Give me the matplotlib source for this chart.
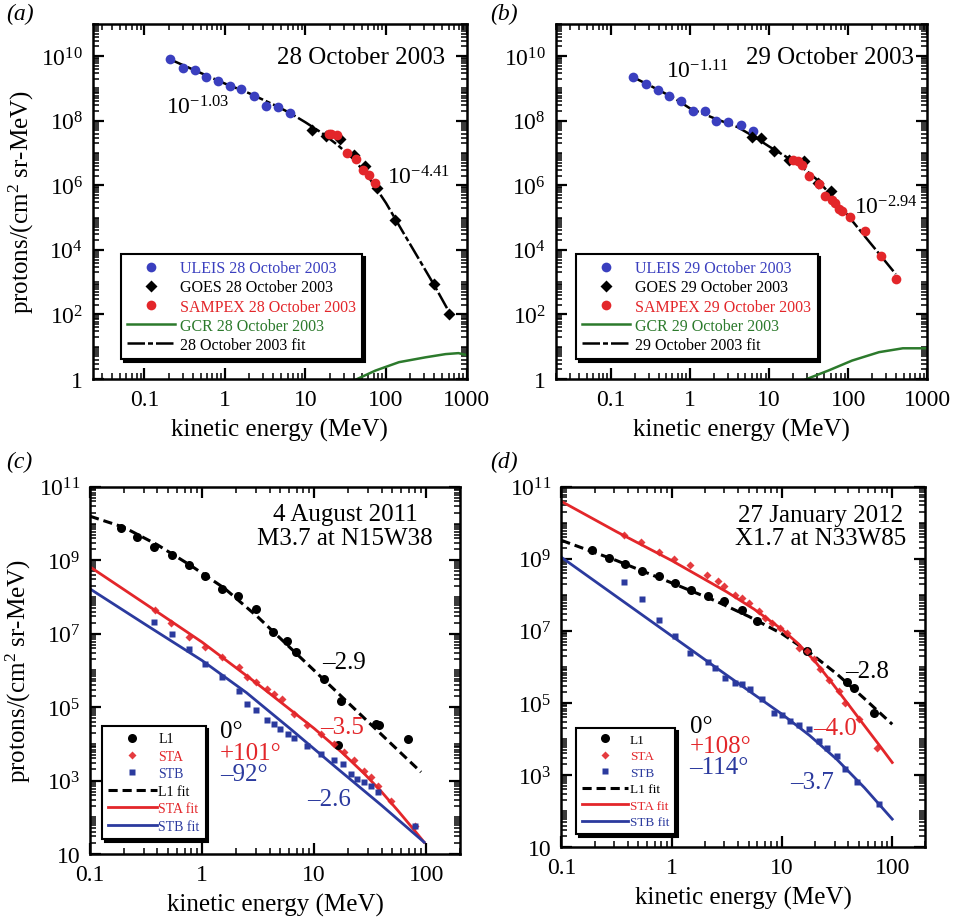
import numpy as np
import matplotlib
matplotlib.use('Agg')
import matplotlib.pyplot as plt
from matplotlib.ticker import FixedLocator, LogLocator, FuncFormatter, NullFormatter

plt.rcParams['font.family'] = ['Liberation Serif', 'DejaVu Serif']
plt.rcParams['mathtext.fontset'] = 'custom'
plt.rcParams['mathtext.rm'] = 'Liberation Serif'
plt.rcParams['mathtext.it'] = 'Liberation Serif:italic'
plt.rcParams['mathtext.bf'] = 'Liberation Serif:bold'

BLUE = '#3a3fbf'
RED = '#e3262a'
GREEN = '#2c7a2c'
LBLUE = '#2b3a9e'

# ---- panel (a): 28 October 2003 (energy in MeV, flux as log10) ----
a_uleis_E = [0.21, 0.30, 0.43, 0.59, 0.82, 1.15, 1.6, 2.3, 3.2, 4.6, 6.5]
a_uleis_logF = [9.90, 9.64, 9.56, 9.36, 9.22, 9.09, 8.99, 8.78, 8.47, 8.43, 8.25]
a_goes_E = [12, 18, 27, 40, 55, 77, 130, 390, 600]
a_goes_logF = [7.71, 7.53, 7.42, 6.93, 6.60, 5.90, 4.93, 2.94, 2.01]
a_sampex_E = [19.5, 21, 25, 33, 42, 52, 61, 72]
a_sampex_logF = [7.60, 7.58, 7.55, 7.01, 6.82, 6.47, 6.31, 6.08]
a_fit_E = [0.2, 0.316, 0.5, 1, 2, 4, 6.3, 10, 16, 25, 40, 63, 100, 158, 251, 398, 631]
a_fit_logF = [9.92, 9.70, 9.48, 9.15, 8.85, 8.50, 8.25, 7.95, 7.62, 7.25, 6.80, 6.20, 5.45, 4.60, 3.75, 2.90, 2.00]
a_gcr_E = [40, 44, 74, 145, 309, 550, 794, 1000]
a_gcr_logF = [-0.05, 0.0, 0.26, 0.52, 0.67, 0.77, 0.80, 0.74]

# ---- panel (b): 29 October 2003 ----
b_uleis_E = [0.19, 0.28, 0.39, 0.54, 0.78, 1.1, 1.55, 2.1, 3.0, 4.4, 6.2]
b_uleis_logF = [9.35, 9.14, 8.96, 8.78, 8.60, 8.31, 8.31, 7.98, 7.96, 7.88, 7.69]
b_goes_E = [6.0, 7.8, 11.5, 18, 27.5, 42, 60]
b_goes_logF = [7.48, 7.46, 7.05, 6.79, 6.74, 6.06, 5.82]
b_sampex_E = [20, 23.5, 26, 32, 43, 51, 62, 69, 76, 83, 105, 162, 263, 407]
b_sampex_logF = [6.77, 6.74, 6.63, 6.30, 6.03, 5.68, 5.54, 5.44, 5.28, 5.21, 5.01, 4.59, 3.80, 3.09]
b_fit_E = [0.19, 0.316, 0.63, 1, 2, 4, 6.3, 10, 16, 25, 40, 63, 100, 158, 251, 398]
b_fit_logF = [9.35, 9.08, 8.70, 8.38, 8.08, 7.80, 7.52, 7.20, 6.90, 6.60, 6.18, 5.65, 5.05, 4.45, 3.85, 3.25]
b_gcr_E = [27, 30, 56, 112, 245, 490, 1000]
b_gcr_logF = [-0.05, 0.0, 0.26, 0.57, 0.83, 0.95, 0.95]

# ---- panel (c): 4 August 2011 ----
c_l1_E = [0.19, 0.26, 0.37, 0.54, 0.76, 1.07, 1.5, 2.1, 3.0, 4.3, 5.75, 6.9, 12.3, 16.2, 17.4, 35.5, 38, 69]
c_l1_logF = [9.88, 9.64, 9.36, 9.14, 8.88, 8.57, 8.23, 8.03, 7.68, 7.06, 6.79, 6.50, 5.77, 3.97, 5.18, 4.55, 4.50, 4.12]
c_sta_E = [0.38, 0.53, 0.76, 1.07, 1.51, 2.13, 2.53, 3.0, 3.82, 4.39, 5.2, 6.6, 8.7, 11.5, 15.1, 18.6,
           22.8, 28, 32, 37, 49, 79]
c_sta_logF = [7.64, 7.30, 6.91, 6.65, 6.36, 6.09, 5.82, 5.68, 5.50, 5.36, 5.23, 4.82, 4.50, 4.27, 4.00, 3.77,
              3.55, 3.27, 3.09, 2.86, 2.45, 1.77]
c_stb_E = [0.37, 0.54, 0.76, 1.07, 1.51, 2.13, 2.53, 3.0, 3.82, 4.39, 5.0, 5.8, 6.6, 8.7, 11.5, 15.1, 18,
           21.3, 24.4, 28, 32, 37, 79]
c_stb_logF = [7.32, 6.98, 6.59, 6.18, 5.82, 5.45, 5.09, 4.91, 4.64, 4.55, 4.41, 4.27, 4.15, 3.95, 3.73, 3.55, 3.45,
              3.18, 3.05, 2.95, 2.86, 2.68, 1.77]
c_l1fit_E = [0.1, 0.2, 0.4, 0.79, 1.58, 3.16, 6.3, 12.6, 25.1, 50, 90]
c_l1fit_logF = [10.20, 9.90, 9.42, 8.86, 8.24, 7.45, 6.58, 5.71, 4.84, 3.97, 3.23]
c_stafit_E = [0.1, 0.316, 1, 3.16, 10, 17.8, 28.2, 39.8, 56, 74, 96]
c_stafit_logF = [8.82, 7.80, 6.77, 5.62, 4.42, 3.76, 3.18, 2.70, 2.18, 1.74, 1.32]
c_stbfit_E = [0.1, 0.316, 1, 2.5, 6.3, 15.8, 39.8, 96]
c_stbfit_logF = [8.22, 7.24, 6.27, 5.39, 4.38, 3.35, 2.33, 1.32]

# ---- panel (d): 27 January 2012 ----
d_l1_E = [0.19, 0.27, 0.38, 0.54, 0.76, 1.08, 1.5, 2.13, 3.0, 4.3, 5.9, 16.9, 38.8, 44.7, 67.8]
d_l1_logF = [9.25, 9.02, 8.85, 8.65, 8.53, 8.33, 8.14, 7.98, 7.84, 7.59, 7.27, 6.44, 5.58, 5.42, 4.73]
d_sta_E = [0.37, 0.53, 0.76, 1.06, 1.48, 2.09, 2.63, 3.0, 3.78, 4.34, 4.99, 6.15, 7.06, 8.11, 9.66, 11.1,
           14.2, 16.9, 19.4, 22.2, 26.5, 32.7, 37.5, 49.5, 72.6]
d_sta_logF = [9.66, 9.45, 9.20, 8.99, 8.83, 8.56, 8.37, 8.24, 8.00, 7.91, 7.77, 7.54, 7.36, 7.22, 7.08, 6.94,
              6.53, 6.44, 6.21, 5.93, 5.65, 5.33, 5.01, 4.55, 3.76]
d_stb_E = [0.37, 0.54, 0.76, 1.08, 1.48, 2.13, 2.49, 3.06, 3.78, 4.34, 5.16, 6.59, 8.39, 10, 11.9, 14.2,
           17.5, 21.5, 25.6, 31.5, 37.5, 47.9, 75.2]
d_stb_logF = [8.35, 7.87, 7.31, 6.87, 6.39, 6.13, 5.98, 5.70, 5.56, 5.52, 5.38, 5.10, 4.71, 4.66, 4.50, 4.38,
              4.27, 3.95, 3.76, 3.53, 3.18, 2.80, 2.20]
d_l1fit_E = [0.1, 0.316, 1, 2.5, 5.0, 10, 17.8, 31.6, 56, 100]
d_l1fit_logF = [9.51, 8.95, 8.33, 7.83, 7.40, 6.92, 6.40, 5.80, 5.12, 4.41]
d_stafit_E = [0.1, 0.316, 1, 3.16, 5.6, 10, 14.1, 20, 28.2, 39.8, 56, 79, 100]
d_stafit_logF = [10.59, 9.75, 8.95, 8.08, 7.60, 7.04, 6.64, 6.15, 5.57, 4.97, 4.37, 3.77, 3.35]
d_stbfit_E = [0.1, 0.316, 1, 3.16, 10, 17.8, 31.6, 56, 100]
d_stbfit_logF = [9.04, 7.95, 6.86, 5.77, 4.69, 4.10, 3.43, 2.65, 1.78]


def lin(v):
    return 10.0 ** np.asarray(v)


def power_label(v, pos):
    e = int(round(np.log10(v)))
    if e == 0:
        return '1'
    if e == 1:
        return '10'
    return r'$10^{%d}$' % e


def style_axes(ax, xlim, ylim, yticks, xticks):
    ax.set_xscale('log')
    ax.set_yscale('log')
    ax.set_xlim(*xlim)
    ax.set_ylim(*ylim)
    ax.xaxis.set_major_locator(FixedLocator(xticks))
    ax.xaxis.set_major_formatter(FuncFormatter(lambda v, p: ('%g' % v)))
    ax.xaxis.set_minor_locator(LogLocator(base=10, subs=np.arange(2, 10), numticks=50))
    ax.xaxis.set_minor_formatter(NullFormatter())
    ax.yaxis.set_major_locator(FixedLocator(yticks))
    ax.yaxis.set_major_formatter(FuncFormatter(power_label))
    ax.yaxis.set_minor_locator(LogLocator(base=10, subs=np.arange(1, 10), numticks=50))
    ax.yaxis.set_minor_formatter(NullFormatter())
    ax.tick_params(which='both', direction='in', top=True, right=True, labelsize=17)
    ax.tick_params(which='major', length=8, width=1.6, pad=7)
    ax.tick_params(which='minor', length=4, width=1.1)
    for s in ax.spines.values():
        s.set_linewidth(1.8)
    ax.set_xlabel('kinetic energy (MeV)', fontsize=18, labelpad=6)


fig = plt.figure(figsize=(9.58, 9.2), dpi=100)
ax_a = fig.add_axes([0.097, 0.587, 0.390, 0.386])
ax_b = fig.add_axes([0.580, 0.587, 0.388, 0.386])
ax_c = fig.add_axes([0.094, 0.0707, 0.386, 0.399])
ax_d = fig.add_axes([0.586, 0.078, 0.380, 0.392])

fitdash = (0, (7, 1.2, 2, 1.2))
top_yticks = [1, 1e2, 1e4, 1e6, 1e8, 1e10]
bot_yticks = [10, 1e3, 1e5, 1e7, 1e9, 1e11]

# ---- (a) and (b) ----
for ax, d, day, xlim in [
        (ax_a, dict(uE=a_uleis_E, uF=a_uleis_logF, gE=a_goes_E, gF=a_goes_logF, sE=a_sampex_E, sF=a_sampex_logF,
                    fE=a_fit_E, fF=a_fit_logF, cE=a_gcr_E, cF=a_gcr_logF), '28', (0.023, 1000)),
        (ax_b, dict(uE=b_uleis_E, uF=b_uleis_logF, gE=b_goes_E, gF=b_goes_logF, sE=b_sampex_E, sF=b_sampex_logF,
                    fE=b_fit_E, fF=b_fit_logF, cE=b_gcr_E, cF=b_gcr_logF), '29', (0.02, 1000))]:
    ax.plot(d['cE'], lin(d['cF']), color=GREEN, lw=1.8, label='GCR %s October 2003' % day)
    ax.plot(d['fE'], lin(d['fF']), color='black', lw=1.8, linestyle=fitdash, label='%s October 2003 fit' % day)
    ax.plot(d['uE'], lin(d['uF']), 'o', color=BLUE, ms=7, mec='none', label='ULEIS %s October 2003' % day)
    ax.plot(d['gE'], lin(d['gF']), 'D', color='black', ms=6, mec='none', label='GOES %s October 2003' % day)
    ax.plot(d['sE'], lin(d['sF']), 'o', color=RED, ms=7, mec='none', label='SAMPEX %s October 2003' % day)
    style_axes(ax, xlim, (1, 1e11), top_yticks, [0.1, 1, 10, 100, 1000])

    h, l = ax.get_legend_handles_labels()
    order = [2, 3, 4, 0, 1]
    leg = ax.legend([h[i] for i in order], [l[i] for i in order], loc='lower left',
                    bbox_to_anchor=(0.075 if ax is ax_a else 0.055, 0.055), borderaxespad=0,
                    fontsize=11.5, frameon=True, fancybox=False, edgecolor='black',
                    shadow={'color': 'black', 'alpha': 1.0}, labelspacing=0.2, handlelength=3.0,
                    handletextpad=0.3, borderpad=0.4)
    leg.get_frame().set_linewidth(1.5)
    for t, c in zip(leg.get_texts(), [BLUE, 'black', RED, GREEN, 'black']):
        t.set_color(c)

ax_a.set_ylabel('protons/(cm$^2$ sr-MeV)', fontsize=18, labelpad=4)
ax_a.text(0.944, 0.907, '28 October 2003', transform=ax_a.transAxes, ha='right', va='center', fontsize=18)
ax_a.text(0.195, 0.765, r'$10^{-1.03}$', transform=ax_a.transAxes, ha='left', va='center', fontsize=17)
ax_a.text(0.786, 0.569, r'$10^{-4.41}$', transform=ax_a.transAxes, ha='left', va='center', fontsize=17)

ax_b.text(0.965, 0.907, '29 October 2003', transform=ax_b.transAxes, ha='right', va='center', fontsize=18)
ax_b.text(0.296, 0.868, r'$10^{-1.11}$', transform=ax_b.transAxes, ha='left', va='center', fontsize=17)
ax_b.text(0.804, 0.484, r'$10^{-2.94}$', transform=ax_b.transAxes, ha='left', va='center', fontsize=17)

# ---- (c) and (d) ----
panels = [
    (ax_c, c_l1_E, c_l1_logF, c_sta_E, c_sta_logF, c_stb_E, c_stb_logF, c_l1fit_E, c_l1fit_logF,
     c_stafit_E, c_stafit_logF, c_stbfit_E, c_stbfit_logF, 10, (0.032, 0.041)),
    (ax_d, d_l1_E, d_l1_logF, d_sta_E, d_sta_logF, d_stb_E, d_stb_logF, d_l1fit_E, d_l1fit_logF,
     d_stafit_E, d_stafit_logF, d_stbfit_E, d_stbfit_logF, 9.5, (0.041, 0.036)),
]
for (ax, lE, lF, aE, aF, bE, bF, lfE, lfF, afE, afF, bfE, bfF, lfs, anchor) in panels:
    ax.plot(lfE, lin(lfF), color='black', lw=2.2, linestyle=(0, (3, 1.6)), label='L1 fit')
    ax.plot(afE, lin(afF), color=RED, lw=2.0, label='STA fit')
    ax.plot(bfE, lin(bfF), color=LBLUE, lw=2.0, label='STB fit')
    ax.plot(lE, lin(lF), 'o', color='black', ms=6.5, mec='none', label='L1')
    ax.plot(aE, lin(aF), 'D', color=RED, ms=4.5, mec='none', alpha=0.9, label='STA')
    ax.plot(bE, lin(bF), 's', color=LBLUE, ms=3.8, mec='none', label='STB')
    style_axes(ax, (0.1, 200), (10, 1e11), bot_yticks, [0.1, 1, 10, 100])

    h, l = ax.get_legend_handles_labels()
    order = [3, 4, 5, 0, 1, 2]
    leg = ax.legend([h[i] for i in order], [l[i] for i in order], loc='lower left',
                    bbox_to_anchor=anchor, borderaxespad=0, fontsize=lfs, frameon=True, fancybox=False,
                    edgecolor='black', shadow={'color': 'black', 'alpha': 1.0}, labelspacing=0.32,
                    handlelength=3.5, handletextpad=0.1, borderpad=0.45)
    leg.get_frame().set_linewidth(1.5)
    for t, c in zip(leg.get_texts(), ['black', RED, LBLUE, 'black', RED, LBLUE]):
        t.set_color(c)

ax_c.set_ylabel('protons/(cm$^2$ sr-MeV)', fontsize=18, labelpad=4)
ax_c.text(0.69, 0.894, '4 August 2011\nM3.7 at N15W38', transform=ax_c.transAxes, ha='center', va='center',
          fontsize=18, linespacing=1.1)
ax_c.text(0.627, 0.523, '\u20132.9', transform=ax_c.transAxes, ha='left', va='center', fontsize=18)
ax_c.text(0.622, 0.346, '\u20133.5', transform=ax_c.transAxes, ha='left', va='center', fontsize=18, color=RED)
ax_c.text(0.586, 0.150, '\u20132.6', transform=ax_c.transAxes, ha='left', va='center', fontsize=18, color=LBLUE)
ax_c.text(0.351, 0.334, '0\u00b0', transform=ax_c.transAxes, ha='left', va='center', fontsize=18)
ax_c.text(0.351, 0.275, '+101\u00b0', transform=ax_c.transAxes, ha='left', va='center', fontsize=18, color=RED)
ax_c.text(0.351, 0.218, '\u201392\u00b0', transform=ax_c.transAxes, ha='left', va='center', fontsize=18,
          color=LBLUE)

ax_d.text(0.712, 0.889, '27 January 2012\nX1.7 at N33W85', transform=ax_d.transAxes, ha='center', va='center',
          fontsize=18, linespacing=1.1)
ax_d.text(0.780, 0.490, '\u20132.8', transform=ax_d.transAxes, ha='left', va='center', fontsize=18)
ax_d.text(0.692, 0.332, '\u20134.0', transform=ax_d.transAxes, ha='left', va='center', fontsize=18, color=RED)
ax_d.text(0.629, 0.180, '\u20133.7', transform=ax_d.transAxes, ha='left', va='center', fontsize=18, color=LBLUE)
ax_d.text(0.352, 0.337, '0\u00b0', transform=ax_d.transAxes, ha='left', va='center', fontsize=18)
ax_d.text(0.352, 0.281, '+108\u00b0', transform=ax_d.transAxes, ha='left', va='center', fontsize=18, color=RED)
ax_d.text(0.352, 0.222, '\u2013114\u00b0', transform=ax_d.transAxes, ha='left', va='center', fontsize=18,
          color=LBLUE)

# panel letters
for x, y, s in [(0.006, 0.984, '(a)'), (0.512, 0.984, '(b)'), (0.006, 0.497, '(c)'), (0.512, 0.497, '(d)')]:
    fig.text(x, y, s, fontsize=17, style='italic', ha='left', va='center')

fig.savefig('out.png', dpi=100)
